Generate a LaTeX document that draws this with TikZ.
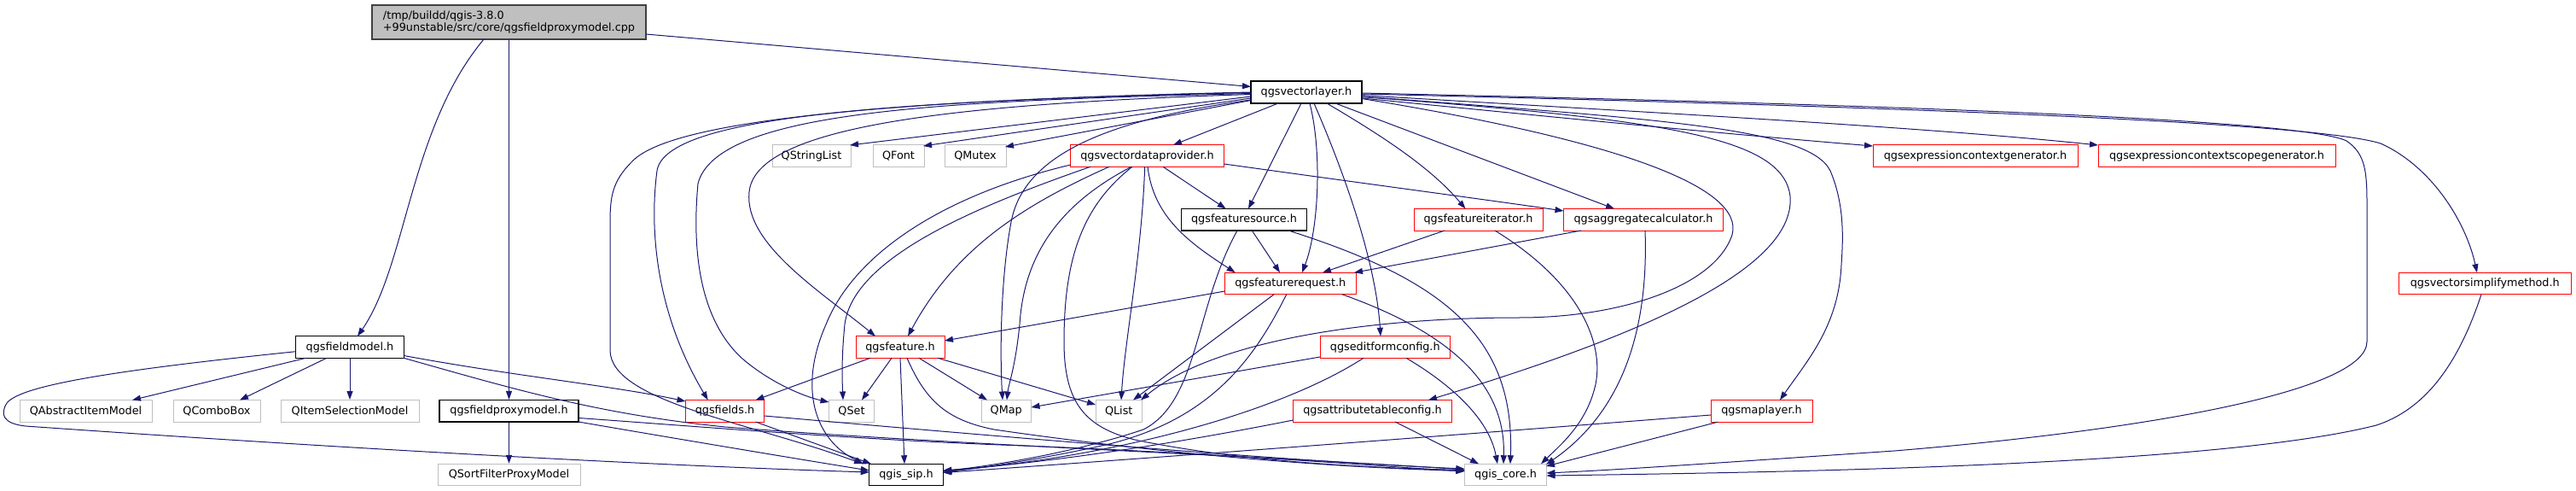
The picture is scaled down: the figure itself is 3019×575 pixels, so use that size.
\documentclass[tikz,border=0pt]{standalone}
\usepackage{fontspec}
\setmainfont{DejaVu Sans}
\usetikzlibrary{arrows.meta,calc}
\definecolor{edgeblue}{HTML}{191970}
\definecolor{boxgray}{HTML}{BFBFBF}
\definecolor{rootborder}{HTML}{404040}
\definecolor{redborder}{HTML}{FF0000}
\newcommand\gfont{\fontsize{12.8}{14.5}\selectfont}
\tikzset{
  nd/.style={rectangle, inner sep=0pt, minimum height=25.5pt, font=\gfont, text=black},
  blk/.style={nd, draw=black, line width=1.2pt},
  redb/.style={nd, draw=redborder, line width=1pt},
  gry/.style={nd, draw=boxgray, line width=1pt},
  dep/.style={draw=edgeblue, line width=1pt, -{Triangle[length=10pt,width=7pt]}}
}
\begin{document}
\begin{tikzpicture}[x=1pt,y=-1pt]
\useasboundingbox (0,0) rectangle (3019,575);
% nodes
\node[blk, fill=boxgray, draw=rootborder, minimum width=321pt, minimum height=40pt, align=left] (root) at (596.5,26) {/tmp/buildd/qgis-3.8.0\\+99unstable/src/core/qgsfieldproxymodel.cpp};
\node[blk, minimum width=130pt, minimum height=26pt] (vl) at (1531,108) {qgsvectorlayer.h};
\node[gry, minimum width=92pt] (qsl) at (951,182.5) {QStringList};
\node[gry, minimum width=60pt] (qfont) at (1053,182.5) {QFont};
\node[gry, minimum width=72pt] (qmutex) at (1143,182.5) {QMutex};
\node[redb, minimum width=180pt] (vdp) at (1344.5,182.5) {qgsvectordataprovider.h};
\node[redb, minimum width=240pt] (ecg) at (2315,182.5) {qgsexpressioncontextgenerator.h};
\node[redb, minimum width=278pt] (ecsg) at (2598,182.5) {qgsexpressioncontextscopegenerator.h};
\node[blk, minimum width=147pt] (fs) at (1458,257.25) {qgsfeaturesource.h};
\node[redb, minimum width=151pt] (fi) at (1732.5,257.25) {qgsfeatureiterator.h};
\node[redb, minimum width=187pt] (agg) at (1926,257.25) {qgsaggregatecalculator.h};
\node[redb, minimum width=153.5pt] (fr) at (1512.25,332) {qgsfeaturerequest.h};
\node[redb, minimum width=202.5pt] (vsm) at (2912.25,332) {qgsvectorsimplifymethod.h};
\node[redb, minimum width=104pt] (feat) at (1055,406.5) {qgsfeature.h};
\node[redb, minimum width=152.5pt] (efc) at (1623.25,406.5) {qgseditformconfig.h};
\node[blk, minimum width=127pt] (fm) at (410,406.5) {qgsfieldmodel.h};
\node[gry, minimum width=155pt] (qaim) at (100.5,481.25) {QAbstractItemModel};
\node[gry, minimum width=102pt] (qcb) at (254,481.25) {QComboBox};
\node[gry, minimum width=162pt] (qism) at (410,481.25) {QItemSelectionModel};
\node[blk, minimum width=163pt] (fpm) at (596.5,481.25) {qgsfieldproxymodel.h};
\node[redb, minimum width=92pt] (fields) at (849.5,481.25) {qgsfields.h};
\node[gry, minimum width=53pt] (qset) at (998,481.25) {QSet};
\node[gry, minimum width=58.5pt] (qmap) at (1179.25,481.25) {QMap};
\node[gry, minimum width=54.5pt] (qlist) at (1311.25,481.25) {QList};
\node[redb, minimum width=186pt] (atc) at (1608.5,481.25) {qgsattributetableconfig.h};
\node[redb, minimum width=119pt] (ml) at (2064.5,481.25) {qgsmaplayer.h};
\node[gry, minimum width=167pt] (qsfpm) at (596.5,556) {QSortFilterProxyModel};
\node[blk, minimum width=86.5pt] (sip) at (1062,556) {qgis\_sip.h};
\node[gry, minimum width=96pt] (core) at (1764.5,556) {qgis\_core.h};
% root edges
\draw[dep] ($(root)+(160.5,14)$) -- ($(vl)+(-65,-6.5)$);
\draw[dep] ($(root)+(-29.5,20)$) .. controls (480,150) and (477,310) .. ($(fm)+(9,-12.75)$);
\draw[dep] (root.south) -- (fpm.north);
% fieldmodel edges
\draw[dep] ($(fm)+(-51.3,12.75)$) -- ($(qaim)+(54.5,-12.75)$);
\draw[dep] ($(fm)+(-27,12.75)$) -- ($(qcb)+(27,-12.75)$);
\draw[dep] (fm.south) -- (qism.north);
\draw[dep] ($(fm)+(63.5,10)$) .. controls (600,440) and (720,452) .. ($(fields)+(-46,-11.25)$);
\draw[dep] ($(fm)+(63,12.75)$) .. controls (600,455) and (700,485) .. (850,500) .. controls (1100,520) and (1500,535) .. ($(core)+(-48,-6)$);
\draw[dep] ($(fm)+(-63.5,5.2)$) .. controls (150,432) and (25,450) .. (8,472) .. controls (0,485) and (3,496) .. (30,499) .. controls (400,525) and (760,545) .. ($(sip)+(-43.25,-3)$);
% fieldproxymodel edges
\draw[dep] (fpm.south) -- (qsfpm.north);
\draw[dep] ($(fpm)+(81.5,12.75)$) .. controls (800,515) and (950,540) .. ($(sip)+(-43.25,-5)$);
\draw[dep] ($(fpm)+(81.5,8.25)$) .. controls (800,498) and (1000,515) .. (1200,522) .. controls (1450,532) and (1600,545) .. ($(core)+(-48,-4)$);
% vectorlayer edges
\draw[dep] ($(vl)+(-65,5)$) -- ($(qsl)+(45,-12.5)$);
\draw[dep] ($(vl)+(-65,7)$) -- ($(qfont)+(29,-11.5)$);
\draw[dep] ($(vl)+(-65,9.5)$) -- ($(qmutex)+(35,-10.5)$);
\draw[dep] ($(vl)+(-33,13)$) -- ($(vdp)+(30.5,-12.75)$);
\draw[dep] ($(vl)+(-6,13)$) -- ($(fs)+(5,-12.75)$);
\draw[dep] ($(vl)+(4,13)$) .. controls (1550,180) and (1545,270) .. ($(fr)+(13.75,-12.75)$);
\draw[dep] ($(vl)+(9,13)$) .. controls (1570,190) and (1612,300) .. ($(efc)+(-5.25,-12.75)$);
\draw[dep] ($(vl)+(24,13)$) .. controls (1630,165) and (1680,200) .. ($(fi)+(-15,-12.75)$);
\draw[dep] ($(vl)+(34,13)$) -- ($(agg)+(-34,-12.75)$);
\draw[dep] ($(vl)+(65,7)$) .. controls (1800,135) and (2000,155) .. ($(ecg)+(-120,-11.5)$);
\draw[dep] ($(vl)+(65,3.5)$) .. controls (1900,130) and (2250,148) .. ($(ecsg)+(-139,-12.5)$);
\draw[dep] ($(vl)+(65,1)$) .. controls (2000,118) and (2690,135) .. (2750,165) .. controls (2772,180) and (2774,200) .. (2774,240) -- (2774,400) .. controls (2774,460) and (2500,505) .. (2220,528) .. controls (2000,543) and (1900,550) .. ($(core)+(48,-2)$);
\draw[dep] ($(vl)+(65,2)$) .. controls (2100,122) and (2700,140) .. (2790,168) .. controls (2850,195) and (2890,260) .. ($(vsm)+(-9.25,-12.75)$);
\draw[dep] ($(vl)+(65,5)$) .. controls (1950,140) and (2120,150) .. (2145,200) .. controls (2162,240) and (2160,280) .. (2158,310) .. controls (2155,380) and (2120,420) .. ($(ml)+(21.5,-12.75)$);
\draw[dep] ($(vl)+(65,5.5)$) .. controls (1950,140) and (2090,160) .. (2098,230) .. controls (2105,320) and (1900,400) .. ($(atc)+(65.5,-12.75)$);
\draw[dep] ($(vl)+(65,7.5)$) .. controls (1900,165) and (2045,220) .. (2030,275) .. controls (2010,335) and (1900,372) .. (1780,372) .. controls (1600,372) and (1420,400) .. ($(qlist)+(25.75,-12.75)$);
\draw[dep] ($(vl)+(-65,9)$) .. controls (1300,140) and (1200,180) .. (1185,260) .. controls (1172,330) and (1172,420) .. ($(qmap)+(-4.25,-12.75)$);
\draw[dep] ($(vl)+(-65,2.5)$) .. controls (1100,122) and (885,150) .. (878,225) .. controls (872,285) and (960,340) .. ($(feat)+(-29,-12.75)$);
\draw[dep] ($(vl)+(-65,1.5)$) .. controls (1100,118) and (840,130) .. (818,215) .. controls (812,280) and (815,370) .. (870,420) .. controls (905,450) and (945,465) .. ($(qset)+(-26.5,-10.25)$);
\draw[dep] ($(vl)+(-65,0.5)$) .. controls (1050,118) and (780,135) .. (770,200) .. controls (762,260) and (765,360) .. ($(fields)+(-19.8,-12.75)$);
\draw[dep] ($(vl)+(-65,0)$) .. controls (1000,118) and (780,145) .. (740,190) .. controls (718,212) and (715,230) .. (715,260) -- (715,410) .. controls (715,470) and (880,495) .. ($(sip)+(-51,-12.75)$);
% vectordataprovider edges
\draw[dep] ($(vdp)+(-89.8,10.5)$) .. controls (1100,230) and (1000,300) .. (968,380) .. controls (935,455) and (955,515) .. ($(sip)+(-50,-12.75)$);
\draw[dep] ($(vdp)+(-66.5,12.75)$) .. controls (1150,240) and (1000,300) .. (990,380) .. controls (986,420) and (987,445) .. ($(qset)+(-10,-12.75)$);
\draw[dep] ($(vdp)+(-44.5,12.75)$) .. controls (1200,240) and (1120,290) .. ($(feat)+(9,-12.75)$);
\draw[dep] ($(vdp)+(-18.5,12.75)$) .. controls (1240,240) and (1200,300) .. (1195,380) .. controls (1190,430) and (1182,450) .. ($(qmap)+(0.75,-12.75)$);
\draw[dep] ($(vdp)+(-17.5,12.75)$) .. controls (1270,240) and (1247,300) .. (1247,400) .. controls (1247,470) and (1270,500) .. (1330,515) .. controls (1450,540) and (1600,548) .. ($(core)+(-48,-5.5)$);
\draw[dep] ($(vdp)+(-2.8,12.75)$) .. controls (1338,300) and (1318,400) .. ($(qlist)+(2.75,-12.75)$);
\draw[dep] ($(vdp)+(0.5,12.75)$) .. controls (1352,255) and (1395,285) .. ($(fr)+(-64.55,-12.75)$);
\draw[dep] ($(vdp)+(18.5,12.75)$) -- ($(fs)+(-21.3,-12.75)$);
\draw[dep] ($(vdp)+(90,9.5)$) .. controls (1600,215) and (1750,235) .. ($(agg)+(-93.5,-10.25)$);
% featuresource edges
\draw[dep] ($(fs)+(9.3,12.75)$) -- ($(fr)+(-12.25,-12.75)$);
\draw[dep] ($(fs)+(-8,12.75)$) .. controls (1400,360) and (1405,470) .. (1340,503) .. controls (1260,530) and (1160,546) .. ($(sip)+(43.25,-4.5)$);
\draw[dep] ($(fs)+(52,12.75)$) .. controls (1700,330) and (1775,400) .. ($(core)+(5.5,-12.75)$);
% featurerequest edges
\draw[dep] ($(fr)+(-76.75,9)$) -- ($(feat)+(52,-7.5)$);
\draw[dep] ($(fr)+(-19.25,12.75)$) -- ($(qlist)+(16.75,-12.75)$);
\draw[dep] ($(fr)+(-4.55,12.75)$) .. controls (1470,420) and (1420,490) .. (1300,520) .. controls (1220,538) and (1150,548) .. ($(sip)+(43.25,-3)$);
\draw[dep] ($(fr)+(60.75,12.75)$) .. controls (1700,390) and (1765,450) .. ($(core)+(-2.5,-12.75)$);
% featureiterator edges
\draw[dep] ($(fi)+(-39.5,12.75)$) -- ($(fr)+(37.75,-12.75)$);
\draw[dep] ($(fi)+(19.5,12.75)$) .. controls (1850,330) and (1880,400) .. (1870,450) .. controls (1860,495) and (1830,520) .. ($(core)+(41.5,-12.75)$);
% aggregatecalculator edges
\draw[dep] ($(agg)+(-73,12.75)$) -- ($(fr)+(74.75,-12.75)$);
\draw[dep] ($(agg)+(2,12.75)$) .. controls (1932,380) and (1905,480) .. ($(core)+(47.5,-12)$);
% feature edges
\draw[dep] ($(feat)+(-35,12.75)$) -- ($(fields)+(36,-12.75)$);
\draw[dep] ($(feat)+(-10,12.75)$) -- ($(qset)+(12,-12.75)$);
\draw[dep] ($(feat)+(0,12.75)$) -- ($(sip)+(-2,-12.75)$);
\draw[dep] ($(feat)+(22,12.75)$) -- ($(qmap)+(-22.25,-12.75)$);
\draw[dep] ($(feat)+(44,12.75)$) -- ($(qlist)+(-27.25,-7.25)$);
\draw[dep] ($(feat)+(8,12.75)$) .. controls (1085,470) and (1110,492) .. (1165,503) .. controls (1350,530) and (1550,547) .. ($(core)+(-48,-4.5)$);
% fields edges
\draw[dep] ($(fields)+(36,12.75)$) -- ($(sip)+(-41,-12.75)$);
\draw[dep] ($(fields)+(46,5.75)$) .. controls (1100,505) and (1500,540) .. ($(core)+(-48,-7)$);
% editformconfig edges
\draw[dep] ($(efc)+(-76.25,11.5)$) -- ($(qmap)+(29.25,-4.25)$);
\draw[dep] ($(efc)+(-25.25,12.75)$) .. controls (1520,470) and (1350,530) .. ($(sip)+(43.25,-4)$);
\draw[dep] ($(efc)+(24.75,12.75)$) .. controls (1700,450) and (1745,490) .. ($(core)+(-9.5,-12.75)$);
% attributetableconfig edges
\draw[dep] ($(atc)+(-93,10.75)$) .. controls (1400,515) and (1250,540) .. ($(sip)+(43.25,-5)$);
\draw[dep] ($(atc)+(26.5,12.75)$) -- ($(core)+(-31.5,-12.75)$);
% maplayer edges
\draw[dep] ($(ml)+(-59.5,4.75)$) .. controls (1700,510) and (1300,540) .. ($(sip)+(43.25,-2.5)$);
\draw[dep] ($(ml)+(-51.5,13)$) -- ($(core)+(47.5,-10)$);
% vectorsimplifymethod edge
\draw[dep] ($(vsm)+(-4.25,12.75)$) .. controls (2880,430) and (2840,480) .. (2785,498) .. controls (2600,545) and (2100,553) .. ($(core)+(48,1)$);
\end{tikzpicture}
\end{document}
